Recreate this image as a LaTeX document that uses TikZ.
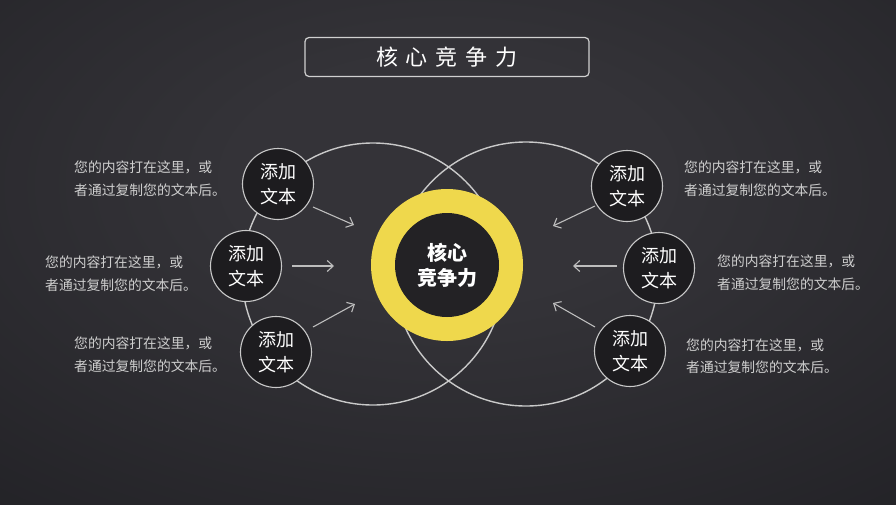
\documentclass[tikz,border=0pt]{standalone}
\usepackage{fontspec}
\setmainfont{Noto Sans CJK SC}
\usetikzlibrary{arrows.meta}
\definecolor{bgin}{HTML}{343338}
\definecolor{bgmid}{HTML}{19191D}
\definecolor{bgout}{HTML}{121215}
\definecolor{ringgray}{HTML}{C9C9C9}
\definecolor{smallfill}{HTML}{1D1C1F}
\definecolor{bodygray}{HTML}{CFCFCF}
\definecolor{arrowgray}{HTML}{BDBDBD}
\definecolor{ringyellow}{HTML}{EFD84C}
\definecolor{coredark}{HTML}{232225}
\definecolor{titlegray}{HTML}{D0D0D0}
\pgfdeclareradialshading{bgshade}{\pgfpoint{0bp}{8bp}}{color(0bp)=(bgin); color(12bp)=(bgin); color(58bp)=(bgmid); color(140bp)=(bgout)}
\begin{document}
\begin{tikzpicture}[x=1pt,y=-1pt,
  bigring/.style={draw=ringgray,line width=1.4pt},
  smallc/.style={circle,draw=ringgray,line width=1.1pt,fill=smallfill,minimum size=71pt,inner sep=0pt,align=center,text=white,font=\fontsize{18}{25}\selectfont},
  body/.style={text=bodygray,align=left,inner sep=0pt,anchor=west,font=\fontsize{13.8}{22.5}\selectfont},
  arr/.style={draw=arrowgray,line width=1.1pt,-{Straight Barb[length=6pt,width=11pt]}}]
\path[shading=bgshade] (0,0) rectangle (896,504);
\useasboundingbox (0,0) rectangle (896,504);
% title
\node[draw=titlegray,line width=1.2pt,rounded corners=4pt,minimum width=284pt,minimum height=39pt,inner sep=0pt,text=white,font=\fontsize{22}{26}\selectfont] (title) at (447,57) {核\hspace{8pt}心\hspace{8pt}竞\hspace{8pt}争\hspace{8pt}力};
% big circles
\draw[bigring] (373,274) circle[radius=131pt];
\draw[bigring] (526,274) circle[radius=132pt];
% arrows
\coordinate (la1s) at (313,207); \coordinate (la1e) at (354,225);
\coordinate (la2s) at (292,266); \coordinate (la2e) at (334,266);
\coordinate (la3s) at (313,327); \coordinate (la3e) at (355,304);
\coordinate (ra1s) at (595,206); \coordinate (ra1e) at (553,226);
\coordinate (ra2s) at (617,266); \coordinate (ra2e) at (573,266);
\coordinate (ra3s) at (595,327); \coordinate (ra3e) at (553,303);
\draw[arr] (la1s) -- (la1e);
\draw[arr] (la2s) -- (la2e);
\draw[arr] (la3s) -- (la3e);
\draw[arr] (ra1s) -- (ra1e);
\draw[arr] (ra2s) -- (ra2e);
\draw[arr] (ra3s) -- (ra3e);
% small circles
\node[smallc] (l1) at (278,184) {添加\\文本};
\node[smallc] (l2) at (246,266) {添加\\文本};
\node[smallc] (l3) at (276,352) {添加\\文本};
\node[smallc] (r1) at (627,186) {添加\\文本};
\node[smallc] (r2) at (659,268) {添加\\文本};
\node[smallc] (r3) at (630,351) {添加\\文本};
% center ring
\node[circle,fill=ringyellow,minimum size=152pt,inner sep=0pt] (ring) at (447,265) {};
\node[circle,fill=coredark,minimum size=104pt,inner sep=0pt,text=white,align=center,font=\bfseries\fontsize{20}{25}\selectfont] (core) at (447,265) {核心\\竞争力};
% texts
\node[body] (t1) at (74,178.5) {您的内容打在这里，或\\者通过复制您的文本后。};
\node[body] (t2) at (45,273.5) {您的内容打在这里，或\\者通过复制您的文本后。};
\node[body] (t3) at (74,354.5) {您的内容打在这里，或\\者通过复制您的文本后。};
\node[body] (t4) at (684,178.5) {您的内容打在这里，或\\者通过复制您的文本后。};
\node[body] (t5) at (717,272.5) {您的内容打在这里，或\\者通过复制您的文本后。};
\node[body] (t6) at (686,356) {您的内容打在这里，或\\者通过复制您的文本后。};
\end{tikzpicture}
\end{document}
